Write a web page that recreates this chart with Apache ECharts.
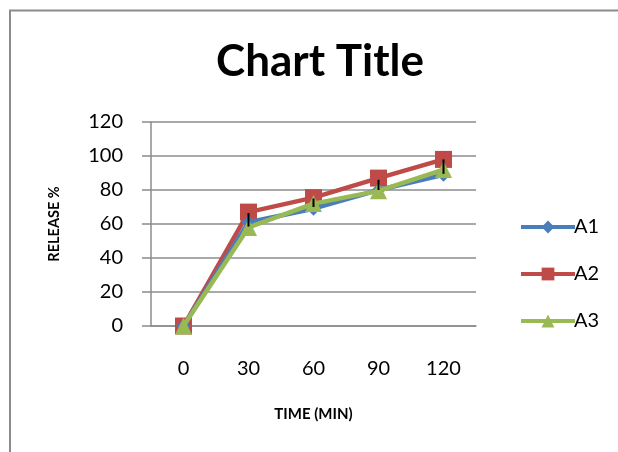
<!DOCTYPE html>
<html><head><meta charset="utf-8">
<script src="https://cdn.jsdelivr.net/npm/echarts@6/dist/echarts.min.js"></script>
<style>html,body{margin:0;padding:0;background:#fff}#c{width:618px;height:452px}</style>
</head><body><div id="c"></div>
<script>
const categories = ['0', '30', '60', '90', '120'];
const a1 = [0, 61, 69, 80, 89];
const a2 = [0, 67, 75.5, 87, 98];
const a3 = [0, 58, 72, 79.5, 92];
const errLow = [null, 58.5, 70, 80, 89.5];
const errHigh = [null, 66.5, 75, 86, 98];
const yTicks = [0, 20, 40, 60, 80, 100, 120];

const font = 'Lato, "Open Sans", sans-serif';
const chart = echarts.init(document.getElementById('c'), null, {renderer: 'canvas'});
const errData = categories.map((c, i) => [i, errLow[i], errHigh[i]]).filter(d => d[1] != null);

chart.setOption({
  animation: false,
  backgroundColor: '#fff',
  graphic: [{
    type: 'rect', shape: {x: 10, y: 10.5, width: 700, height: 600},
    style: {fill: 'none', stroke: '#8c8c8c', lineWidth: 2}, z: 100, silent: true
  }],
  title: {
    text: 'Chart Title', left: 315, top: 35, textAlign: 'center',
    textStyle: {fontFamily: font, fontWeight: 'bold', fontSize: 44, color: '#000'}
  },
  legend: {
    orient: 'vertical', left: 514, top: 212, itemWidth: 54, itemHeight: 16, itemGap: 27,
    textStyle: {fontFamily: font, fontSize: 20, color: '#000', padding: [0, 0, 0, -6]},
    data: [
      {name: 'A1', lineStyle: {width: 4}},
      {name: 'A2', lineStyle: {width: 4}},
      {name: 'A3', lineStyle: {width: 4}}
    ]
  },
  grid: {left: 151, top: 122, right: 142, bottom: 126},
  xAxis: {
    type: 'category', data: categories, boundaryGap: true,
    name: 'TIME (MIN)', nameLocation: 'middle', nameGap: 81,
    nameTextStyle: {fontFamily: font, fontWeight: 'bold', fontSize: 15, color: '#000'},
    axisLine: {show: true, lineStyle: {color: '#8c8c8c', width: 1.5}},
    axisTick: {show: false},
    axisLabel: {fontFamily: font, fontSize: 20, color: '#000', margin: 33}
  },
  yAxis: {
    type: 'value', min: 0, max: 120, interval: 20,
    name: 'RELEASE %', nameLocation: 'middle', nameGap: 89, nameRotate: 90,
    nameTextStyle: {fontFamily: font, fontWeight: 'bold', fontSize: 14.5, color: '#000'},
    axisLine: {show: true, lineStyle: {color: '#8c8c8c', width: 1.5}},
    axisTick: {show: true, length: 9, lineStyle: {color: '#8c8c8c', width: 1.5}},
    splitLine: {lineStyle: {color: '#8c8c8c', width: 1.5}},
    axisLabel: {fontFamily: font, fontSize: 20, color: '#000', margin: 28,
      formatter: v => yTicks.includes(v) ? String(v) : ''}
  },
  series: [
    {name: 'A1', type: 'line', data: a1, symbol: 'diamond', symbolSize: 14,
      color: '#4A7EBB', lineStyle: {width: 4.5}, z: 2},
    {name: 'A2', type: 'line', data: a2, symbol: 'rect', symbolSize: 17,
      color: '#BE4B48', lineStyle: {width: 4.5}, z: 1},
    {name: 'A3', type: 'line', data: a3, symbol: 'triangle', symbolSize: 17,
      color: '#98B954', lineStyle: {width: 4.5}, z: 3},
    {name: 'err', type: 'custom', data: errData, z: 10, silent: true,
      renderItem: (params, api) => {
        const p1 = api.coord([api.value(0), api.value(1)]);
        const p2 = api.coord([api.value(0), api.value(2)]);
        return {type: 'line', shape: {x1: p1[0], y1: p1[1], x2: p2[0], y2: p2[1]},
          style: {stroke: '#000', lineWidth: 2}};
      }}
  ]
});
</script></body></html>
